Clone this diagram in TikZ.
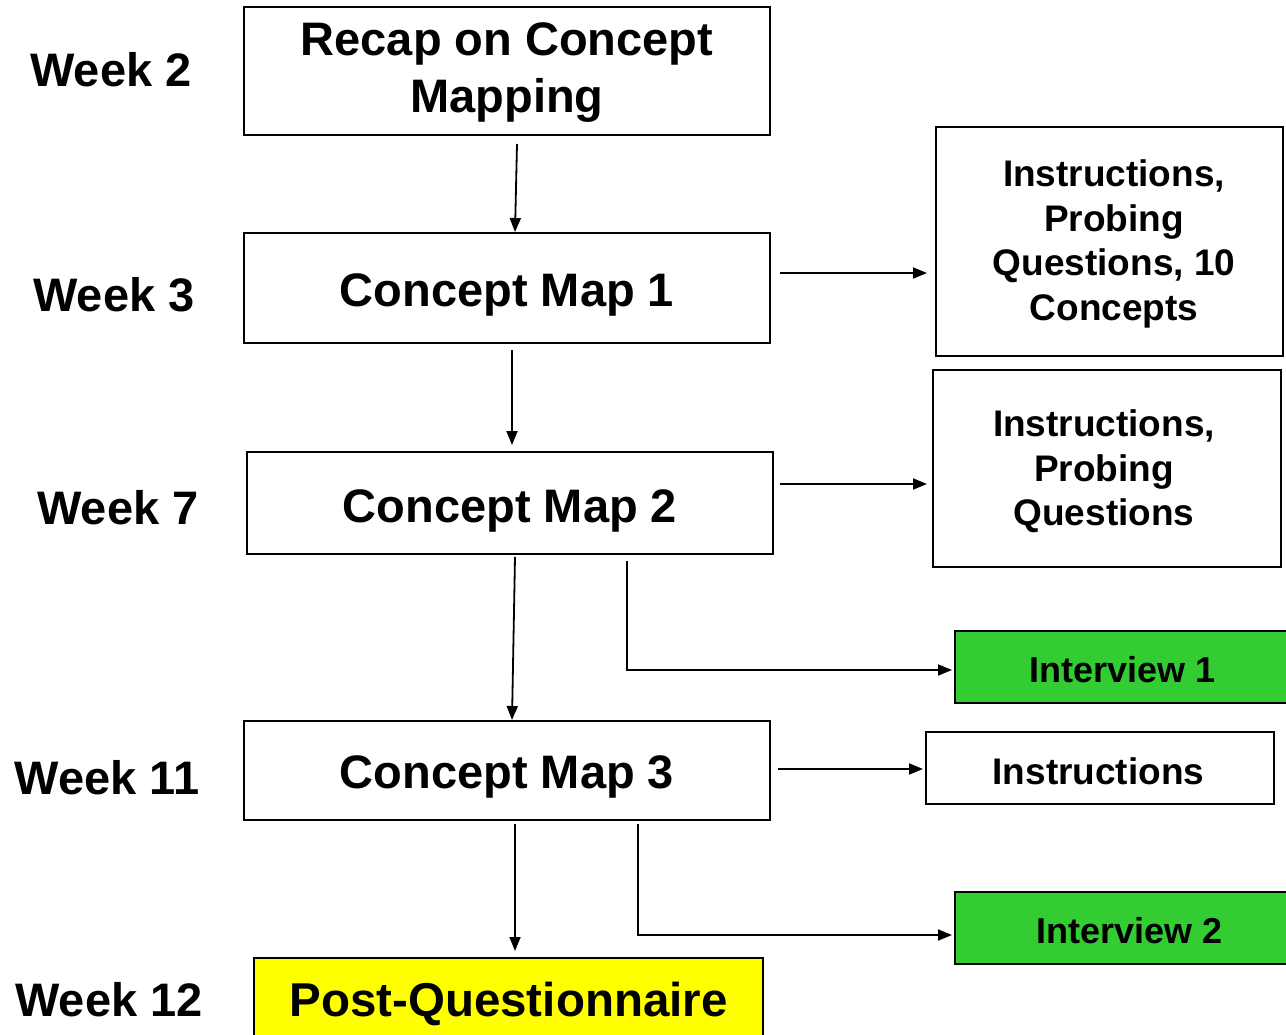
\documentclass[tikz,border=0pt]{standalone}
\usepackage{fontspec}
\setmainfont{Liberation Sans}
\usetikzlibrary{arrows.meta,calc}
\definecolor{igreen}{HTML}{33CC33}
\definecolor{pyellow}{HTML}{FFFF00}
\newcommand{\dn}[2]{\raisebox{-#1pt}[\height][\depth]{#2}}
\newcommand{\lines}[1]{\begin{tabular}{@{}c@{}}#1\end{tabular}}
\begin{document}
\begin{tikzpicture}[x=1pt,y=-1pt,
  box/.style={draw, line width=2pt, align=center, inner sep=0pt, font=\bfseries\fontsize{47}{57}\selectfont},
  sidebox/.style={box, font=\bfseries\fontsize{37}{44.5}\selectfont},
  weeklbl/.style={font=\bfseries\fontsize{47}{56}\selectfont, inner sep=0pt},
  arr/.style={line width=1.8pt, -{Triangle[length=14pt,width=11pt]}}]
\useasboundingbox (0,0) rectangle (1286,1035);
% week labels
\node[weeklbl] (w2) at (111,70) {Week 2};
\node[weeklbl] (w3) at (114,295) {Week 3};
\node[weeklbl] (w7) at (118,508) {Week 7};
\node[weeklbl] (w11) at (107,778) {Week 11};
\node[weeklbl] (w12) at (109,1000) {Week 12};
% main column
\node[box, minimum width=526pt, minimum height=128pt] (recap) at (507,71) {\dn{2}{\lines{Recap on Concept\\Mapping}}};
\node[box, minimum width=526pt, minimum height=110pt] (cm1) at (507,288) {\dn{7}{Concept Map 1}};
\node[box, minimum width=526pt, minimum height=102pt] (cm2) at (510,503) {\dn{8}{Concept Map 2}};
\node[box, minimum width=526pt, minimum height=99pt] (cm3) at (507,770.5) {\dn{6}{Concept Map 3}};
\node[box, fill=pyellow, minimum width=509pt, minimum height=82pt, font=\bfseries\fontsize{47.5}{54}\selectfont] (pq) at (508.5,999) {\dn{5}{Post-Questionnaire}};
% right column
\node[sidebox, minimum width=347pt, minimum height=229pt] (r1) at (1109.5,241.5) {\hspace*{9pt}\dn{3}{\lines{Instructions,\\Probing\\Questions, 10\\Concepts}}};
\node[sidebox, minimum width=348pt, minimum height=197pt] (r2) at (1107,468.5) {\dn{4}{\lines{Instructions,\\Probing\\Questions}}\hspace*{6pt}};
\node[sidebox, fill=igreen, minimum width=335pt, minimum height=72pt, font=\bfseries\fontsize{36}{44}\selectfont] (int1) at (1122.5,667) {\dn{3}{Interview 1}};
\node[sidebox, minimum width=348pt, minimum height=72pt] (instr) at (1100,768) {\dn{3}{Instructions}\hspace*{3pt}};
\node[sidebox, fill=igreen, minimum width=335pt, minimum height=72pt, font=\bfseries\fontsize{36}{44}\selectfont] (int2) at (1122.5,928) {\hspace*{14pt}\dn{3}{Interview 2}};
% vertical arrows
\coordinate (a1s) at ($(recap.south)+(10,8)$);
\coordinate (a1e) at ($(cm1.north)+(8,0)$);
\draw[arr] (a1s) -- (a1e);
\coordinate (a2s) at ($(cm1.south)+(5,6)$);
\coordinate (a2e) at ($(cm2.north)+(2,-6)$);
\draw[arr] (a2s) -- (a2e);
\coordinate (a3s) at ($(cm2.south)+(5,2)$);
\coordinate (a3e) at ($(cm3.north)+(5,0)$);
\draw[arr] (a3s) -- (a3e);
\coordinate (a4s) at ($(cm3.south)+(8,3)$);
\coordinate (a4e) at ($(pq.north)+(6.5,-6)$);
\draw[arr] (a4s) -- (a4e);
% horizontal arrows
\coordinate (h1s) at (780,273);
\draw[arr, shorten >=8pt] (h1s) -- (h1s -| r1.west);
\coordinate (h2s) at (780,484);
\draw[arr, shorten >=5pt] (h2s) -- (h2s -| r2.west);
\coordinate (h3s) at (778,769);
\draw[arr, shorten >=2pt] (h3s) -- (h3s -| instr.west);
% elbows to interviews
\coordinate (e1s) at ($(cm2.south)+(117,6)$);
\coordinate (e1c) at (627,670);
\draw[arr, shorten >=2pt] (e1s) -- (e1c) -- (e1c -| int1.west);
\coordinate (e2s) at ($(cm3.south)+(131,3)$);
\coordinate (e2c) at (638,935);
\draw[arr, shorten >=2pt] (e2s) -- (e2c) -- (e2c -| int2.west);
\end{tikzpicture}
\end{document}
